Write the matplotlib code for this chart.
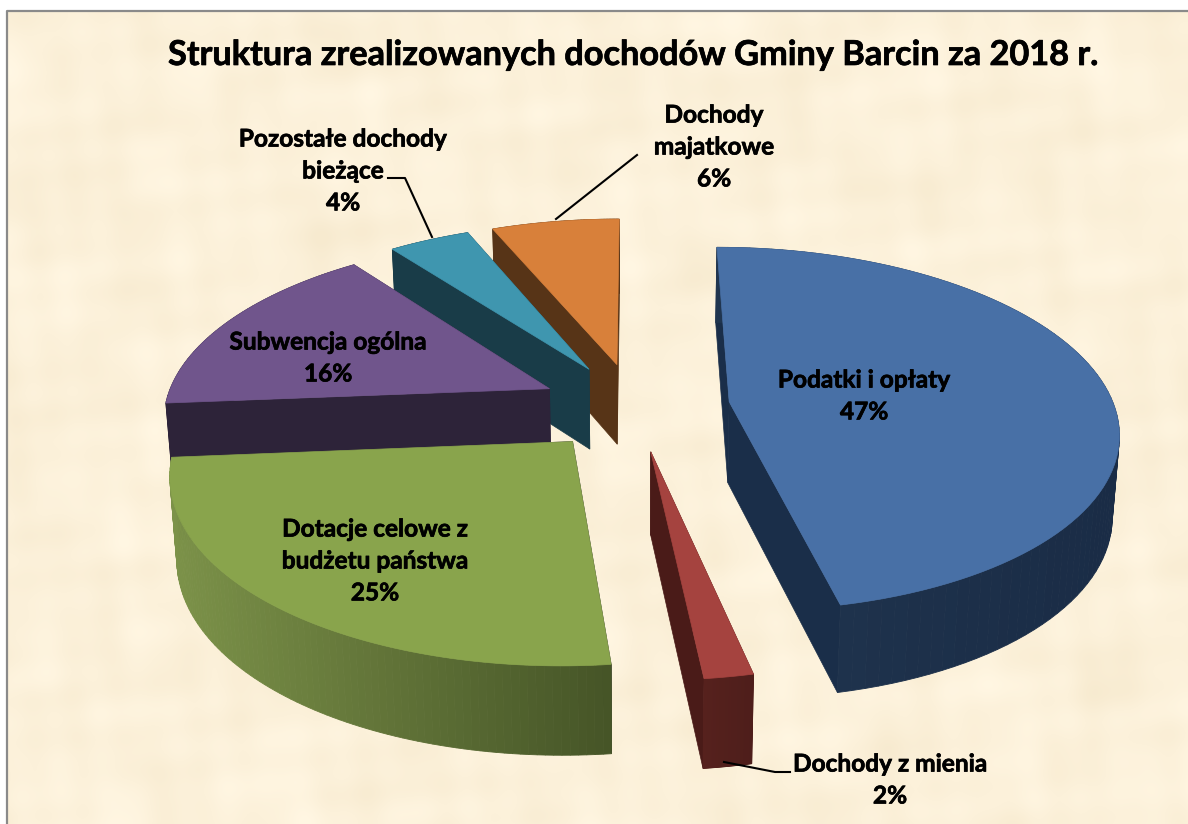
import numpy as np
import matplotlib
matplotlib.use("Agg")
import matplotlib.pyplot as plt
import matplotlib.patheffects as pe

plt.rcParams['font.family'] = ['Lato', 'DejaVu Sans']

# ------------ Data ---------------
title = "Struktura zrealizowanych dochodów Gminy Barcin za 2018 r."
values = [46.6, 1.7, 25.4, 16.0, 4.0, 6.3]
names = ["Podatki i opłaty", "Dochody z mienia", "Dotacje celowe z\nbudżetu państwa",
         "Subwencja ogólna", "Pozostałe dochody\nbieżące", "Dochody\nmajatkowe"]
top_colors = ["#4870A6", "#A5433F", "#89A44C", "#70558C", "#3F96AF", "#D8803A"]
edge_colors = ["#1A2E49", "#4A1B18", "#2D2339", "#2D2339", "#193C48", "#573417"]
arc_colors = [("#20354F", "#1A2C46"), ("#56211D", "#4E1E1B"), ("#7C9249", "#465527"),
              ("#2D2339", "#2D2339"), ("#193C48", "#193C48"), ("#573417", "#573417")]
label_pos = [(864, 396), (890, 780), (375, 561), (328, 358), (343, 171), (714, 147)]

# ------------ Camera ---------------
CX, CY = 635, 406.5
RX, RY = 385, 179
PERSP = 0.15
DEPTH = 81
EXPLODE = 0.247
BOTTOM_SHRINK = 0.985


def project(x, y, bottom=False):
	w = 1 + PERSP * y
	sx = RX * x / w
	sy = -RY * y / w
	if bottom:
		sx = sx * BOTTOM_SHRINK
		sy = sy + DEPTH / np.sqrt(w)
	return CX + sx, CY + sy


def background(ax):
	# soft parchment blotches
	yy, xx = np.mgrid[0:824, 0:1188]
	tex = np.zeros(xx.shape)
	waves = [(0.011, 0.017, 0.4), (0.023, 0.009, 1.7), (0.031, 0.037, 2.9), (0.047, 0.021, 0.9),
	         (0.013, 0.053, 4.1), (0.067, 0.043, 5.3), (0.083, 0.071, 3.3), (0.007, 0.029, 2.2)]
	for fx, fy, ph in waves:
		tex += np.sin(fx * xx + fy * yy + ph) * np.cos(fy * xx - fx * yy + ph * 1.7)
	tex = tex / np.abs(tex).max()
	base = np.array([252, 241, 218]) / 255.0
	amp = np.array([5, 7, 11]) / 255.0
	img = base + tex[..., None] * amp
	ax.imshow(np.clip(img, 0, 1), extent=(7, 1188, 824, 11), aspect='auto', zorder=0, interpolation='bilinear')
	ax.plot([7, 7, 1188], [824, 11, 11], color="#8A8A8A", lw=1.6, zorder=1)


fig = plt.figure(figsize=(11.88, 8.24), dpi=100)
ax = fig.add_axes([0, 0, 1, 1])
background(ax)

angles = np.cumsum([0] + values) / sum(values) * 2 * np.pi

# back to front: orange, teal, purple, blue, green, red
z = 2
for i in [5, 4, 3, 0, 2, 1]:
	a0, a1 = angles[i], angles[i + 1]
	mid = (a0 + a1) / 2
	ex, ey = EXPLODE * np.sin(mid), EXPLODE * np.cos(mid)
	th = np.linspace(a0, a1, 90)
	rim_x, rim_y = ex + np.sin(th), ey + np.cos(th)
	tx, ty = project(rim_x, rim_y)
	bx, by = project(rim_x, rim_y, bottom=True)
	ax0, ay0 = project(np.array([ex]), np.array([ey]))
	bx0, by0 = project(np.array([ex]), np.array([ey]), bottom=True)

	# radial walls
	ec = edge_colors[i]
	for k in (0, -1):
		ax.fill([ax0[0], tx[k], bx[k], bx0[0]], [ay0[0], ty[k], by[k], by0[0]], color=ec, lw=0.5, zorder=z)

	# outer wall, shaded along the arc
	c0 = np.array(matplotlib.colors.to_rgb(arc_colors[i][0]))
	c1 = np.array(matplotlib.colors.to_rgb(arc_colors[i][1]))
	for k in range(len(th) - 1):
		# shade runs left to right on screen
		t = (tx[k] - tx.min()) / max(tx.max() - tx.min(), 1)
		col = c0 + (c1 - c0) * t
		ax.fill([tx[k], tx[k + 1], bx[k + 1], bx[k]], [ty[k], ty[k + 1], by[k + 1], by[k]], color=col, lw=0.6, zorder=z)

	# top face
	ax.fill(np.r_[ax0, tx], np.r_[ay0, ty], color=top_colors[i], lw=0.5, zorder=z + 0.5)
	z += 1

# leader lines
ax.plot([388, 405, 432], [178, 178, 237], color="black", lw=1.5, zorder=20)
ax.plot([637, 556], [155, 219], color="black", lw=1.5, zorder=20)
ax.plot([724, 775, 790], [762, 772, 772], color="black", lw=1.5, zorder=20)

# ------------ Text ---------------
heavy = [pe.withStroke(linewidth=0.5, foreground="black")]
ax.text(633, 55, title, ha='center', va='center', fontsize=24.7, fontweight='bold', color="black", zorder=21,
	path_effects=heavy)
for name, val, (lx, ly) in zip(names, values, label_pos):
	ax.text(lx, ly, f"{name}\n{round(val)}%", ha='center', va='center', fontsize=17.6, fontweight='bold',
		color="black", linespacing=1.47, zorder=21, path_effects=heavy)

ax.set_xlim(0, 1188)
ax.set_ylim(824, 0)
ax.axis('off')
fig.savefig("out.png", dpi=100, facecolor="white")
